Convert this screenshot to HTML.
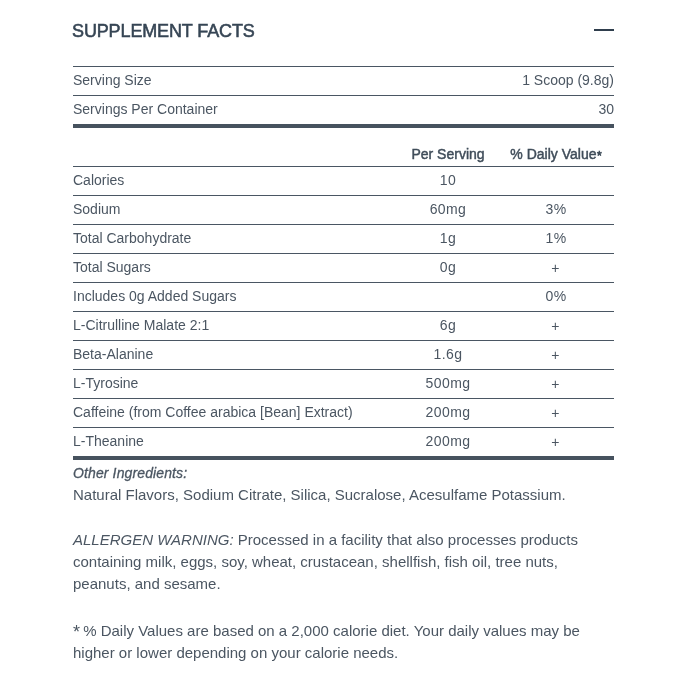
<!DOCTYPE html>
<html>
<head>
<meta charset="utf-8">
<style>
html,body{margin:0;padding:0;background:#fff;}
.wrap{position:absolute;left:0;top:0;width:686px;height:686px;will-change:transform;}
body{width:686px;height:686px;overflow:hidden;position:relative;font-family:"Liberation Sans",sans-serif;color:#4b5662;}
.title{position:absolute;left:72px;top:19px;font-size:18px;font-weight:400;-webkit-text-stroke:0.55px #364554;letter-spacing:-0.13px;color:#364554;line-height:24px;white-space:nowrap;}
.minus{position:absolute;left:594px;top:29px;width:20px;height:2px;background:#2f3e4d;}
.tbl{position:absolute;left:73px;top:66px;width:541px;}
.row{display:flex;height:28px;border-top:1px solid #4a5663;font-size:14px;line-height:28px;white-space:nowrap;}
.row>div{position:relative;top:-1px;}
.row .n{flex:1;}
.row .a{width:108px;text-align:center;letter-spacing:0.4px;}
.row .b{width:108px;text-align:center;padding-right:4px;letter-spacing:0.4px;}
.row .pl{top:0;left:-0.5px;}
.row .r{flex:1;text-align:right;}
.thick{height:4px;background:#46525e;}
.hdr{display:flex;height:38px;font-size:14px;font-weight:400;-webkit-text-stroke:0.45px #3f4c59;line-height:14px;white-space:nowrap;color:#3f4c59;}
.hdr .n{flex:1;}
.hdr .a{width:108px;text-align:center;padding-top:19px;}
.hdr .b{width:108px;text-align:center;padding-right:4px;padding-top:19px;}
.ast{font-size:12px;vertical-align:-0.5px;margin-left:0.5px;-webkit-text-stroke:0.7px #3f4c59;}
.p{position:absolute;left:73px;font-size:15px;line-height:22px;white-space:nowrap;}
.oi{position:absolute;left:73px;font-size:14px;font-style:italic;-webkit-text-stroke:0.3px #4b5662;letter-spacing:0.12px;line-height:18px;white-space:nowrap;}
</style>
</head>
<body>
<div class="wrap">
<div class="title">SUPPLEMENT FACTS</div>
<div class="minus"></div>
<div class="tbl">
  <div class="row"><div class="n">Serving Size</div><div class="r">1 Scoop (9.8g)</div></div>
  <div class="row"><div class="n">Servings Per Container</div><div class="r">30</div></div>
  <div class="thick"></div>
  <div class="hdr"><div class="n"></div><div class="a">Per Serving</div><div class="b">% Daily Value<span class="ast">*</span></div></div>
  <div class="row"><div class="n">Calories</div><div class="a">10</div><div class="b"></div></div>
  <div class="row"><div class="n">Sodium</div><div class="a">60mg</div><div class="b">3%</div></div>
  <div class="row"><div class="n">Total Carbohydrate</div><div class="a">1g</div><div class="b">1%</div></div>
  <div class="row"><div class="n">Total Sugars</div><div class="a">0g</div><div class="b pl">+</div></div>
  <div class="row"><div class="n">Includes 0g Added Sugars</div><div class="a"></div><div class="b">0%</div></div>
  <div class="row"><div class="n">L-Citrulline Malate 2:1</div><div class="a">6g</div><div class="b pl">+</div></div>
  <div class="row"><div class="n">Beta-Alanine</div><div class="a">1.6g</div><div class="b pl">+</div></div>
  <div class="row"><div class="n">L-Tyrosine</div><div class="a">500mg</div><div class="b pl">+</div></div>
  <div class="row"><div class="n">Caffeine (from Coffee arabica [Bean] Extract)</div><div class="a">200mg</div><div class="b pl">+</div></div>
  <div class="row"><div class="n">L-Theanine</div><div class="a">200mg</div><div class="b pl">+</div></div>
  <div class="thick"></div>
</div>
<div class="oi" style="top:464px;">Other Ingredients:</div>
<div class="p" style="top:484px;">Natural Flavors, Sodium Citrate, Silica, Sucralose, Acesulfame Potassium.</div>
<div class="p" style="top:529px;"><i>ALLERGEN WARNING:</i> Processed in a facility that also processes products<br>containing milk, eggs, soy, wheat, crustacean, shellfish, fish oil, tree nuts,<br>peanuts, and sesame.</div>
<div class="p" style="top:620px;"><span style="font-size:18px;line-height:1;position:relative;top:2px;margin-right:-1px;">*</span> % Daily Values are based on a 2,000 calorie diet. Your daily values may be<br>higher or lower depending on your calorie needs.</div>
</div>
</body>
</html>
